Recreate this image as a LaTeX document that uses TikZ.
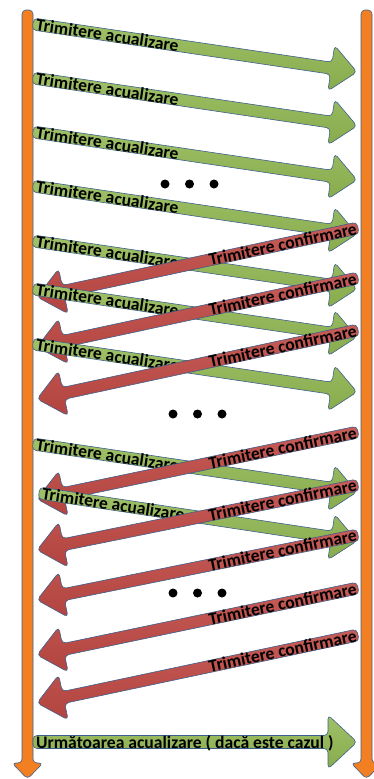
\documentclass[tikz,border=0pt]{standalone}
\usepackage{fontspec}
\setmainfont{Carlito}
\usetikzlibrary{calc}
\definecolor{lanefill}{HTML}{F28022}
\definecolor{rim}{HTML}{3D5F8C}
\definecolor{updtop}{HTML}{A0C168}
\definecolor{updbot}{HTML}{88AB4D}
\definecolor{acktop}{HTML}{C65C58}
\definecolor{ackbot}{HTML}{B3443F}
\newcommand\updtext{Trimitere acualizare}
\newcommand\acktext{Trimitere confirmare}
\tikzset{fatband/.store in=\bandw,fathead/.store in=\headw,fatheadlen/.store in=\headl,
  every node/.style={font=\bfseries\fontsize{17.6}{20}\selectfont},
  fatshape/.style={draw=rim,line width=.6pt,rounded corners=4pt},
  lanesize/.style={fatband=5.5,fathead=15.5,fatheadlen=16},
  updsize/.style={fatband=6,fathead=23,fatheadlen=26},
  acksize/.style={fatband=6,fathead=23,fatheadlen=27},
  nextsize/.style={fatband=6.5,fathead=27,fatheadlen=29},
  lanearrow/.style={fatshape,fill=lanefill},
  updarrow/.style={fatshape,top color=updtop,bottom color=updbot},
  ackarrow/.style={fatshape,top color=acktop,bottom color=ackbot},
  nextarrow/.style={updarrow},
  lanelabel/.style={inner sep=0pt},
  txt/.style={inner ysep=0pt,inner xsep=3pt,text height=12pt,text depth=0pt},
  updlabel/.style={txt,anchor=west},
  acklabel/.style={txt,anchor=east,inner xsep=1.5pt},
  nextlabel/.style={updlabel},
  dot/.style={circle,fill=black,inner sep=0pt,minimum size=9pt}}
% block arrow from #1 to #2, kind #3, text #4
\newcommand\fatarrow[4]{{\tikzset{#3size}%
  \pgfpointdiff{\pgfpointanchor{#1}{center}}{\pgfpointanchor{#2}{center}}%
  \pgfgetlastxy\arrdx\arrdy
  \pgfmathsetmacro\arrang{atan2(\arrdy,\arrdx)}%
  \pgfmathsetmacro\arrtip{veclen(\arrdx,\arrdy)}%
  \pgfmathsetmacro\arrneck{\arrtip-\headl}%
  \path[#3arrow,x=1pt,y=1pt,shift={(#1)},rotate=\arrang](0,-\bandw)--(\arrneck,-\bandw)--(\arrneck,-\headw)--(\arrtip,0)--(\arrneck,\headw)--(\arrneck,\bandw)--(0,\bandw)--cycle;
  \path(#1)--(#2)node[pos=0,sloped,#3label]{#4};}}

\begin{document}
\begin{tikzpicture}[x=1pt,y=-1pt]
\useasboundingbox(0,0)rectangle(374,779);
% the two lanes
\coordinate(ltop)at(27.5,10);\coordinate(lbot)at(27.5,779);
\coordinate(rtop)at(366.5,10);\coordinate(rbot)at(366.5,779);
\fatarrow{ltop}{lbot}{lane}{}
\fatarrow{rtop}{rbot}{lane}{}
% updates and confirmations, in stacking order
\foreach \n/\k/\xa/\ya/\xb/\yb in {1/upd/33/24/357/72,2/upd/33/78/357/126,3/upd/33/132/357/180,
  4/upd/33/186/357/234,5/upd/33/241/357/289,6/ack/358/228/37/297,7/upd/33/289/357/337,
  8/ack/358/278/37/347,9/upd/33/344/357/392,10/ack/358/330/37/399,11/upd/33/444/357/492,
  12/ack/358/432/37/499,13/upd/39/493/357/541,14/ack/358/485/37/550,15/ack/358/535/37/600,
  16/ack/358/588/37/655,17/ack/358/635/37/703}{
  \coordinate(s\n)at(\xa,\ya);\coordinate(e\n)at(\xb,\yb);
  \edef\callarrow{\noexpand\fatarrow{s\n}{e\n}{\k}}\callarrow{\csname\k text\endcsname}}
\coordinate(s18)at(33,742);\coordinate(e18)at(357,742);
\fatarrow{s18}{e18}{next}{Următoarea acualizare ( dacă este cazul )}
% dots
\foreach \r/\x/\y in {a/165/184,b/173/414,c/173/593}{\foreach \i in {0,1,2}{\node[dot](dot\r\i)at({\x+24.5*\i},\y){};}}
\end{tikzpicture}
\end{document}
